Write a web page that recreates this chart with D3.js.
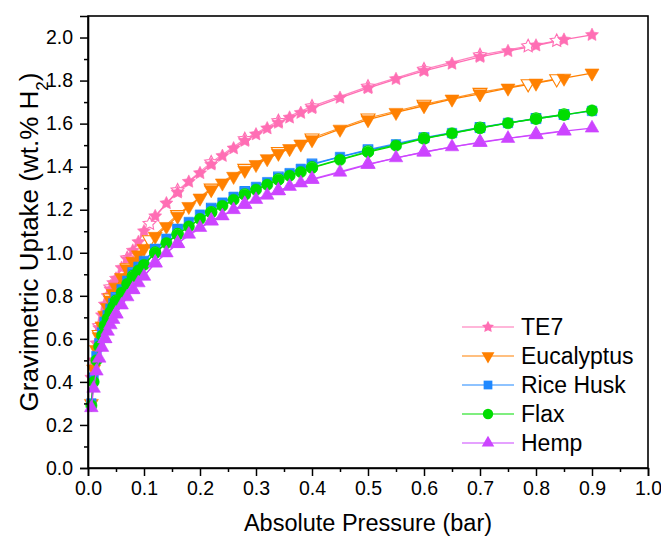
<!DOCTYPE html>
<html><head><meta charset="utf-8">
<script src="https://cdn.jsdelivr.net/npm/d3@7"></script>
<style>body{margin:0;background:#fff}text{font-family:"Liberation Sans",Arial,sans-serif;fill:#000}</style>
</head><body>
<svg id="c" width="661" height="536"></svg>
<script>
const seriesNames = ["TE7","Eucalyptus","Rice Husk","Flax","Hemp"];
const seriesColors = ["#ff6eb4","#ff8000","#1e88ff","#00dd00","#cc44ff"];
const pressure = [0.006,0.01,0.015,0.02,0.025,0.03,0.035,0.04,0.045,0.05,0.06,0.07,0.08,0.09,0.1,0.12,0.14,0.16,0.18,0.2,0.22,0.24,0.26,0.28,0.3,0.32,0.34,0.36,0.38,0.4,0.45,0.5,0.55,0.6,0.65,0.7,0.75,0.8,0.85,0.9];
const te7 = [0.42,0.50,0.58,0.65,0.71,0.76,0.80,0.83,0.86,0.88,0.93,0.97,1.01,1.05,1.10,1.17,1.23,1.28,1.33,1.37,1.41,1.45,1.485,1.52,1.55,1.578,1.604,1.628,1.65,1.672,1.72,1.765,1.807,1.845,1.878,1.91,1.937,1.963,1.99,2.012];
const eucalyptus = [0.30,0.46,0.55,0.61,0.66,0.71,0.745,0.78,0.81,0.84,0.885,0.925,0.96,0.99,1.02,1.076,1.122,1.169,1.215,1.254,1.293,1.324,1.355,1.383,1.41,1.437,1.462,1.484,1.505,1.525,1.574,1.618,1.652,1.683,1.714,1.738,1.765,1.788,1.811,1.835];
const riceHusk = [0.30,0.42,0.52,0.58,0.63,0.675,0.71,0.74,0.765,0.79,0.83,0.87,0.905,0.935,0.962,1.014,1.065,1.107,1.143,1.177,1.205,1.233,1.26,1.283,1.306,1.328,1.35,1.37,1.39,1.41,1.445,1.476,1.504,1.532,1.556,1.58,1.603,1.622,1.641,1.659];
const flax = [0.29,0.40,0.50,0.565,0.615,0.66,0.695,0.725,0.75,0.775,0.815,0.855,0.89,0.918,0.944,0.999,1.045,1.084,1.122,1.157,1.187,1.218,1.246,1.269,1.293,1.316,1.339,1.358,1.375,1.394,1.432,1.468,1.498,1.53,1.555,1.579,1.602,1.622,1.641,1.661];
const hemp = [0.28,0.37,0.45,0.51,0.56,0.60,0.635,0.665,0.69,0.715,0.757,0.795,0.828,0.86,0.89,0.952,0.999,1.042,1.086,1.117,1.147,1.171,1.2,1.224,1.247,1.267,1.287,1.308,1.324,1.34,1.374,1.41,1.441,1.467,1.492,1.512,1.531,1.548,1.565,1.579];
// desorption branch (hollow markers)
const desPressureA = [0.837,0.786,0.70,0.60,0.50,0.40,0.34,0.28,0.22,0.16,0.11,0.07,0.04,0.02];
const te7Des = [1.985,1.96,1.918,1.852,1.772,1.68,1.612,1.528,1.42,1.29,1.135,0.975,0.84,0.66];
const eucalyptusDes = [1.808,1.785,1.745,1.69,1.626,1.533,1.47,1.392,1.30,1.177,1.06,0.93,0.79,0.62];
const desPressureB = [0.85,0.8,0.7,0.6,0.5,0.4,0.34,0.28,0.22,0.16,0.12,0.08,0.05,0.03];
const riceHuskDes = [1.643,1.625,1.583,1.535,1.479,1.413,1.353,1.286,1.208,1.11,1.017,0.908,0.793,0.678];
const flaxDes = [1.643,1.624,1.581,1.532,1.471,1.397,1.341,1.271,1.189,1.087,1.001,0.892,0.777,0.662];
const hempDes = [1.567,1.55,1.514,1.469,1.412,1.342,1.289,1.226,1.149,1.044,0.954,0.83,0.717,0.602];
const xTicks = [0,0.1,0.2,0.3,0.4,0.5,0.6,0.7,0.8,0.9,1.0];
const yTicks = [0,0.2,0.4,0.6,0.8,1.0,1.2,1.4,1.6,1.8,2.0];

// fatter five-point star like Origin's
const fatStar = {draw(ctx, size){
  const r = Math.sqrt(size/1.6), ri = r*0.5;
  for(let k=0;k<10;k++){
    const a = -Math.PI/2 + k*Math.PI/5, rr = k%2 ? ri : r;
    const px = rr*Math.cos(a), py = rr*Math.sin(a);
    k ? ctx.lineTo(px,py) : ctx.moveTo(px,py);
  }
  ctx.closePath();
}};

const ads = [te7,eucalyptus,riceHusk,flax,hemp];
const des = [te7Des,eucalyptusDes,riceHuskDes,flaxDes,hempDes];
const desP = [desPressureA,desPressureA,desPressureB,desPressureB,desPressureB];
const shapes = [fatStar,d3.symbolTriangle,d3.symbolSquare,d3.symbolCircle,d3.symbolTriangle];
const sizes = [75,85,90,100,80];
const rot = [0,180,0,0,0];

const svg = d3.select("#c");
const L=88,R=648,T=16,B=468;
const x = d3.scaleLinear().domain([0,1]).range([L,R]);
const y = d3.scaleLinear().domain([0,2.1]).range([B,T]);

const plot = svg.append("g");
ads.forEach((vals,i)=>{
  const g = plot.append("g");
  const dd = desP[i].map((p,j)=>[p,des[i][j]]);
  const ad = pressure.map((p,j)=>[p,vals[j]]);
  const line = d3.line().x(d=>x(d[0])).y(d=>y(d[1]));
  g.append("path").attr("d",line(dd)).attr("fill","none").attr("stroke",seriesColors[i]).attr("stroke-width",1.2).attr("opacity",0.85);
  g.append("path").attr("d",line(ad)).attr("fill","none").attr("stroke",seriesColors[i]).attr("stroke-width",1.3);
  const sym = d3.symbol().type(shapes[i]).size(sizes[i]);
  g.selectAll(".h").data(dd).join("path").attr("d",sym)
    .attr("transform",d=>`translate(${x(d[0])},${y(d[1])}) rotate(${rot[i]})`)
    .attr("fill","#fff").attr("stroke",seriesColors[i]).attr("stroke-width",1.1);
  g.selectAll(".f").data(ad).join("path").attr("d",sym)
    .attr("transform",d=>`translate(${x(d[0])},${y(d[1])}) rotate(${rot[i]})`)
    .attr("fill",seriesColors[i]).attr("stroke",seriesColors[i]).attr("stroke-width",0.6);
});

svg.append("rect").attr("x",L).attr("y",T).attr("width",R-L).attr("height",B-T).attr("fill","none").attr("stroke","#000").attr("stroke-width",1.6);

const xAxis = d3.axisBottom(x).tickValues(xTicks).tickFormat(d3.format(".1f")).tickSize(8).tickPadding(5);
const gx = svg.append("g").attr("transform",`translate(0,${B})`).call(xAxis);
gx.selectAll(".tick line").attr("stroke-width",1.5);
gx.select(".domain").attr("stroke-width",1.6);
gx.selectAll("text").style("font-size","19.5px").style("font-family","Liberation Sans, Arial");
svg.append("g").attr("transform",`translate(0,${B})`).call(d3.axisBottom(x).tickValues(d3.range(0.05,1,0.1)).tickFormat("").tickSize(4)).call(g=>{g.select(".domain").remove();g.selectAll("line").attr("stroke-width",1.5);});

const yAxis = d3.axisLeft(y).tickValues(yTicks).tickFormat(d3.format(".1f")).tickSize(8).tickPadding(7);
const gy = svg.append("g").attr("transform",`translate(${L},0)`).call(yAxis);
gy.selectAll(".tick line").attr("stroke-width",1.5);
gy.select(".domain").attr("stroke-width",1.6);
gy.selectAll("text").style("font-size","19.5px").style("font-family","Liberation Sans, Arial");
svg.append("g").attr("transform",`translate(${L},0)`).call(d3.axisLeft(y).tickValues(d3.range(0.1,2.1,0.2)).tickFormat("").tickSize(4)).call(g=>{g.select(".domain").remove();g.selectAll("line").attr("stroke-width",1.5);});

svg.append("text").attr("x",(L+R)/2).attr("y",531).attr("text-anchor","middle").style("font-size","23.5px").text("Absolute Pressure (bar)");
const yt = svg.append("text").attr("transform",`translate(38,${(T+B)/2}) rotate(-90)`).attr("text-anchor","middle").style("font-size","26px");
yt.append("tspan").text("Gravimetric Uptake (wt.% H");
yt.append("tspan").attr("baseline-shift","sub").style("font-size","17px").text("2");
yt.append("tspan").text(")");

const lg = svg.append("g");
seriesNames.forEach((n,i)=>{
  const yy = 327 + i*29;
  lg.append("line").attr("x1",462).attr("x2",514).attr("y1",yy).attr("y2",yy).attr("stroke",seriesColors[i]).attr("stroke-width",1.2);
  lg.append("path").attr("d",d3.symbol().type(shapes[i]).size(sizes[i]*0.85)).attr("transform",`translate(488,${yy}) rotate(${rot[i]})`).attr("fill",seriesColors[i]);
  lg.append("text").attr("x",521).attr("y",yy+8).style("font-size","23px").text(n);
});
</script>
</body></html>
